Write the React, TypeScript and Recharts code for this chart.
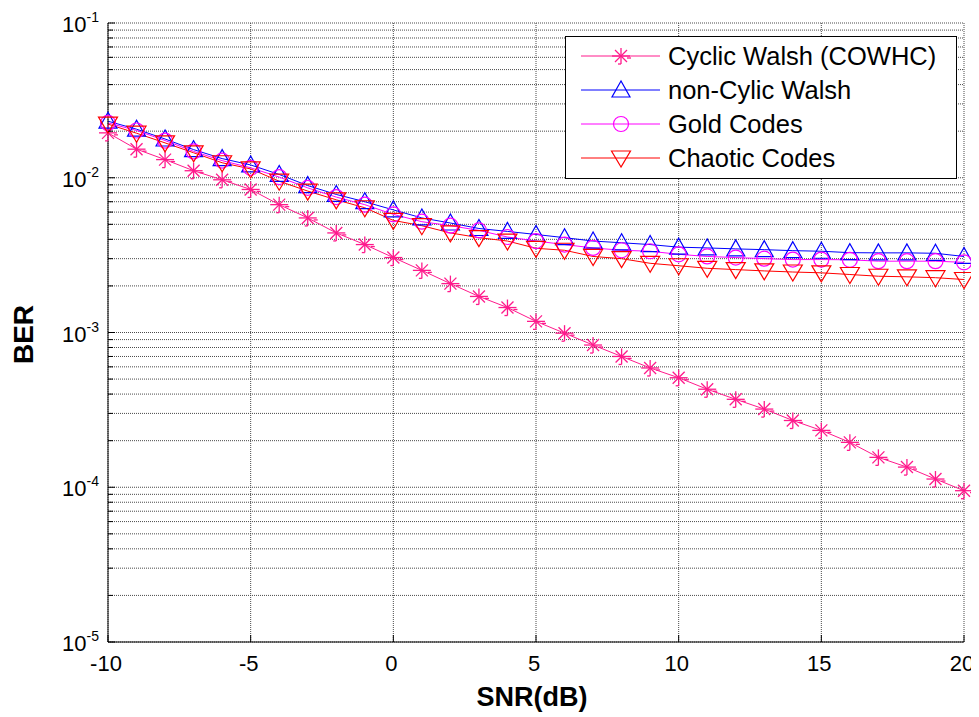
import {
  CartesianGrid,
  Label,
  Legend,
  Line,
  LineChart,
  XAxis,
  YAxis,
} from "recharts";

const SNR = [
  -10, -9, -8, -7, -6, -5, -4, -3, -2, -1, 0, 1, 2, 3, 4, 5, 6, 7, 8, 9, 10,
  11, 12, 13, 14, 15, 16, 17, 18, 19, 20,
];

const CYCLIC = [
  0.0195, 0.0153, 0.0131, 0.0111, 0.0097, 0.0084, 0.0067, 0.0055, 0.0044,
  0.0037, 0.00305, 0.00252, 0.00207, 0.00171, 0.00145, 0.00118, 0.00099,
  0.00083, 0.0007, 0.00059, 0.00051, 0.00043, 0.00037, 0.00032, 0.00027,
  0.000233, 0.000195, 0.000156, 0.000135, 0.000113, 0.000095,
];

const NON_CYCLIC = [
  0.0232, 0.0206, 0.0178, 0.0152, 0.0133, 0.0121, 0.0105, 0.0089, 0.0078,
  0.007, 0.0062, 0.0055, 0.0051, 0.0047, 0.0045, 0.0043, 0.0041, 0.0039,
  0.0038, 0.0037, 0.00356, 0.00352, 0.00347, 0.00343, 0.00338, 0.00335,
  0.00328, 0.00327, 0.00327, 0.00325, 0.0031,
];

const GOLD = [
  0.0226, 0.0202, 0.0174, 0.0148, 0.0129, 0.0116, 0.0101, 0.0086, 0.0075,
  0.0067, 0.0058, 0.0052, 0.0049, 0.00457, 0.00414, 0.0039, 0.0037, 0.00352,
  0.0034, 0.00335, 0.0032, 0.0031, 0.00305, 0.003, 0.00296, 0.00296, 0.00295,
  0.00289, 0.00289, 0.00289, 0.00284,
];

const CHAOTIC = [
  0.0222, 0.0194, 0.0168, 0.0145, 0.0125, 0.0114, 0.0095, 0.0082, 0.0072,
  0.0064, 0.0053, 0.0049, 0.0044, 0.0041, 0.0039, 0.0035, 0.0034, 0.0031,
  0.003, 0.0028, 0.0027, 0.0026, 0.00255, 0.0025, 0.00246, 0.00243, 0.00237,
  0.00231, 0.00229, 0.00226, 0.0022,
];

const X_TICKS = [-10, -5, 0, 5, 10, 15, 20];
const DECADES = [1e-5, 1e-4, 1e-3, 1e-2];
const MULTIPLIERS = [1, 2, 3, 4, 5, 6, 7, 8, 9];
const Y_TICKS = [...DECADES.flatMap((d) => MULTIPLIERS.map((m) => m * d)), 1e-1];
const DECADE_LABELS: Record<string, string> = {
  "1e-5": "-5",
  "1e-4": "-4",
  "1e-3": "-3",
  "1e-2": "-2",
  "1e-1": "-1",
};

const FONT = '"Liberation Sans", Arial, sans-serif';

type MarkerKind = "star" | "up" | "circle" | "down";

const SERIES: { key: string; name: string; color: string; marker: MarkerKind }[] = [
  { key: "cyclic", name: "Cyclic Walsh (COWHC)", color: "#ff1a8c", marker: "star" },
  { key: "nonCyclic", name: "non-Cylic Walsh", color: "#0000ff", marker: "up" },
  { key: "gold", name: "Gold Codes", color: "#ff00ff", marker: "circle" },
  { key: "chaotic", name: "Chaotic Codes", color: "#ff0000", marker: "down" },
];

const data = SNR.map((snr, i) => ({
  snr,
  cyclic: CYCLIC[i],
  nonCyclic: NON_CYCLIC[i],
  gold: GOLD[i],
  chaotic: CHAOTIC[i],
}));

function Marker({ kind, cx, cy, color }: { kind: MarkerKind; cx: number; cy: number; color: string }) {
  if (kind === "star") {
    return (
      <g stroke={color} strokeWidth={1.3} fill="none">
        <line x1={cx} y1={cy - 8} x2={cx} y2={cy + 8} />
        <line x1={cx - 9} y1={cy} x2={cx + 9} y2={cy} />
        <line x1={cx - 6} y1={cy - 6} x2={cx + 6} y2={cy + 6} />
        <line x1={cx - 6} y1={cy + 6} x2={cx + 6} y2={cy - 6} />
        <line x1={cx - 3} y1={cy + 8} x2={cx} y2={cy + 8} />
        <line x1={cx + 6} y1={cy + 2} x2={cx + 10} y2={cy + 2} />
      </g>
    );
  }
  if (kind === "up") {
    return (
      <polygon
        points={`${cx},${cy - 9} ${cx - 9},${cy + 7} ${cx + 9},${cy + 7}`}
        fill="none"
        stroke={color}
        strokeWidth={1.2}
      />
    );
  }
  if (kind === "down") {
    return (
      <polygon
        points={`${cx},${cy + 9} ${cx - 9.5},${cy - 7} ${cx + 9.5},${cy - 7}`}
        fill="none"
        stroke={color}
        strokeWidth={1.2}
      />
    );
  }
  return <circle cx={cx} cy={cy} r={7.5} fill="none" stroke={color} strokeWidth={1.2} />;
}

function LeftTick(props: any) {
  const { x, y, payload } = props;
  const label = DECADE_LABELS[Number(payload.value).toExponential(0).replace("+", "")];
  const major = !!label;
  return (
    <g>
      <line x1={x} y1={y} x2={x + (major ? 7 : 5)} y2={y} stroke="#000" />
      {label && (
        <text x={x - 9} y={y + 9} textAnchor="end" fontSize={22} fontFamily={FONT} fill="#000">
          <tspan>10</tspan>
          <tspan dy={-10} fontSize={14}>
            {label}
          </tspan>
        </text>
      )}
    </g>
  );
}

function RightTick(props: any) {
  const { x, y, payload } = props;
  const major = !!DECADE_LABELS[Number(payload.value).toExponential(0).replace("+", "")];
  return <line x1={x} y1={y} x2={x - (major ? 7 : 5)} y2={y} stroke="#000" />;
}

function BottomTick(props: any) {
  const { x, y, payload } = props;
  return (
    <g>
      <line x1={x} y1={y} x2={x} y2={y - 7} stroke="#000" />
      <text x={x - 2} y={y + 29} textAnchor="middle" fontSize={22} fontFamily={FONT} fill="#000">
        {payload.value}
      </text>
    </g>
  );
}

function TopTick(props: any) {
  const { x, y } = props;
  return <line x1={x} y1={y} x2={x} y2={y + 7} stroke="#000" />;
}

function LegendBox() {
  return (
    <div
      style={{
        width: 392,
        height: 143,
        boxSizing: "border-box",
        border: "1.5px solid #000",
        background: "#fff",
        paddingTop: 2,
        fontFamily: FONT,
      }}
    >
      {SERIES.map((s) => (
        <div key={s.key} style={{ display: "flex", alignItems: "center", height: 34 }}>
          <svg width={102} height={34} style={{ flex: "none" }}>
            <line x1={15} y1={17} x2={94} y2={17} stroke={s.color} strokeWidth={1} />
            <Marker kind={s.marker} cx={55} cy={17} color={s.color} />
          </svg>
          <span style={{ fontSize: 25.5, color: "#000", whiteSpace: "nowrap" }}>{s.name}</span>
        </div>
      ))}
    </div>
  );
}

export default function App() {
  return (
    <div style={{ width: 971, height: 709, background: "#fff", fontFamily: FONT }}>
      <LineChart
        width={971}
        height={709}
        data={data}
        margin={{ top: 15, right: 15, bottom: 0, left: 0 }}
      >
        <CartesianGrid stroke="#4a4a4a" strokeDasharray="1 1" horizontal vertical />
        <XAxis
          dataKey="snr"
          type="number"
          domain={[-10, 20]}
          ticks={X_TICKS}
          interval={0}
          height={75}
          tickSize={0}
          tickMargin={0}
          tickLine={false}
          axisLine={{ stroke: "#000" }}
          tick={<BottomTick />}
        >
          <Label
            content={({ viewBox }: any) => (
              <text
                x={viewBox.x + viewBox.width / 2 - 4}
                y={viewBox.y + 64}
                textAnchor="middle"
                fontSize={27}
                fontWeight="bold"
                fontFamily={FONT}
                fill="#000"
              >
                SNR(dB)
              </text>
            )}
          />
        </XAxis>
        <XAxis
          xAxisId="top"
          orientation="top"
          dataKey="snr"
          type="number"
          domain={[-10, 20]}
          ticks={X_TICKS}
          interval={0}
          height={0}
          tickSize={0}
          tickMargin={0}
          tickLine={false}
          axisLine={{ stroke: "#000" }}
          tick={<TopTick />}
        />
        <YAxis
          scale="log"
          domain={[1e-5, 1e-1]}
          ticks={Y_TICKS}
          interval={0}
          allowDataOverflow
          width={100}
          tickSize={0}
          tickMargin={0}
          tickLine={false}
          axisLine={{ stroke: "#000" }}
          tick={<LeftTick />}
        >
          <Label
            content={({ viewBox }: any) => {
              const cx = viewBox.x + 15;
              const cy = viewBox.y + viewBox.height / 2 + 2;
              return (
                <text
                  x={cx}
                  y={cy}
                  transform={`rotate(-90, ${cx}, ${cy})`}
                  textAnchor="middle"
                  dominantBaseline="central"
                  fontSize={28}
                  fontWeight="bold"
                  fontFamily={FONT}
                  fill="#000"
                >
                  BER
                </text>
              );
            }}
          />
        </YAxis>
        <YAxis
          yAxisId="right"
          orientation="right"
          scale="log"
          domain={[1e-5, 1e-1]}
          ticks={Y_TICKS}
          interval={0}
          allowDataOverflow
          width={0}
          tickSize={0}
          tickMargin={0}
          tickLine={false}
          axisLine={{ stroke: "#000" }}
          tick={<RightTick />}
        />
        <Legend
          layout="horizontal"
          verticalAlign="middle"
          align="center"
          wrapperStyle={{ top: 28, left: 557, width: 392, height: 143 }}
          content={() => <LegendBox />}
        />
        {SERIES.map((s) => (
          <Line
            key={s.key}
            type="linear"
            dataKey={s.key}
            name={s.name}
            stroke={s.color}
            strokeWidth={1}
            isAnimationActive={false}
            dot={(p: any) => (
              <g key={`${s.key}-${p.index}`}>
                <Marker kind={s.marker} cx={p.cx} cy={p.cy} color={s.color} />
              </g>
            )}
            activeDot={false}
          />
        ))}
      </LineChart>
    </div>
  );
}
